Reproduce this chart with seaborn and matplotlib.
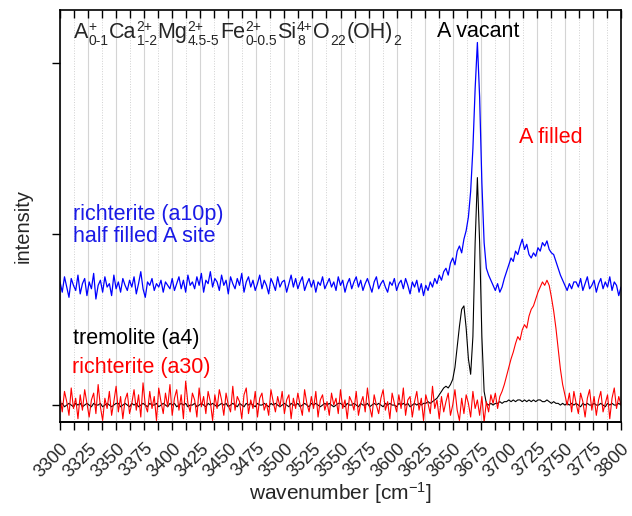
import numpy as np
import pandas as pd
import matplotlib
matplotlib.use("Agg")
import matplotlib.pyplot as plt
import seaborn as sns
from matplotlib.ticker import MultipleLocator
from matplotlib.transforms import offset_copy

# wavenumber grid (cm^-1), 2 cm^-1 steps
wavenumber = np.arange(3300, 3801, 2)

tremolite_a4 = [
    0.00, 0.01, -0.01, 0.00, 0.01, 0.00, -0.01, 0.01, 0.00, 0.01,
    -0.01, 0.00, 0.01, 0.00, -0.01, 0.01, 0.00, 0.00, 0.01, -0.01,
    0.00, 0.01, 0.00, -0.01, 0.00, 0.01, 0.01, -0.01, 0.00, 0.01,
    0.00, -0.01, 0.01, 0.00, 0.01, -0.01, 0.00, 0.01, 0.00, -0.01,
    0.01, 0.00, 0.00, 0.01, -0.01, 0.00, 0.01, 0.00, -0.01, 0.01,
    0.00, 0.01, -0.01, 0.00, 0.01, 0.00, 0.01, -0.01, 0.00, 0.00,
    0.01, -0.01, 0.00, 0.01, 0.00, -0.01, 0.01, 0.00, 0.01, 0.00,
    -0.01, 0.00, 0.01, 0.00, 0.01, -0.01, 0.00, 0.01, 0.00, -0.01,
    0.01, 0.00, -0.01, 0.01, 0.00, 0.01, 0.00, -0.01, 0.01, 0.00,
    0.00, 0.01, 0.00, -0.01, 0.01, 0.00, 0.01, 0.00, -0.01, 0.00,
    0.01, 0.00, -0.01, 0.01, 0.00, 0.00, 0.01, -0.01, 0.00, 0.01,
    0.00, -0.01, 0.01, 0.00, 0.01, 0.00, -0.01, 0.00, 0.01, 0.00,
    0.01, 0.00, -0.01, 0.00, 0.01, 0.01, 0.00, -0.01, 0.01, 0.00,
    0.00, 0.01, 0.00, -0.01, 0.01, 0.00, 0.00, 0.01, -0.01, 0.00,
    0.01, 0.00, 0.01, 0.00, -0.01, 0.01, 0.00, 0.01, 0.00, 0.00,
    -0.01, 0.01, 0.00, 0.01, 0.00, 0.01, -0.01, 0.00, 0.01, 0.00,
    0.01, 0.00, 0.01, 0.01, 0.02, 0.01, 0.02, 0.03, 0.04, 0.06,
    0.08, 0.10, 0.11, 0.10, 0.12, 0.15, 0.22, 0.34, 0.46, 0.56,
    0.58, 0.45, 0.27, 0.18, 0.40, 0.95, 1.33, 0.95, 0.40, 0.08,
    0.01, 0.00, 0.01, 0.00, 0.01, 0.01, 0.02, 0.01, 0.02, 0.02,
    0.03, 0.02, 0.03, 0.02, 0.03, 0.03, 0.02, 0.03, 0.02, 0.03,
    0.02, 0.03, 0.02, 0.03, 0.03, 0.02, 0.02, 0.03, 0.02, 0.01,
    0.02, 0.01, 0.01, 0.00, 0.01, 0.00, 0.01, 0.00, 0.01, 0.00,
    0.01, 0.00, -0.01, 0.01, 0.00, 0.01, 0.00, 0.00, 0.01, 0.00,
    0.00, 0.01, 0.00, -0.01, 0.01, 0.00, 0.01, 0.00, 0.00, 0.01,
    0.00,
]

richterite_a30 = [
    0.05, -0.04, 0.08, 0.02, -0.06, 0.10, -0.02, 0.04, -0.08, 0.06,
    -0.03, 0.09, 0.01, -0.07, 0.03, 0.07, -0.05, 0.12, -0.01, -0.09,
    0.04, -0.02, 0.08, -0.06, 0.02, 0.11, -0.04, 0.05, -0.08, 0.03,
    0.07, -0.05, 0.01, 0.09, -0.03, 0.06, -0.07, 0.13, 0.00, -0.04,
    0.08, -0.02, 0.05, -0.09, 0.10, 0.02, -0.05, 0.07, -0.01, 0.12,
    -0.06, 0.04, 0.09, -0.03, 0.06, -0.08, 0.14, 0.01, -0.04, 0.07,
    0.03, -0.07, 0.10, -0.01, 0.05, -0.05, 0.08, 0.02, -0.09, 0.06,
    -0.02, 0.09, 0.03, -0.06, 0.07, 0.00, -0.04, 0.11, -0.03, 0.05,
    0.02, -0.08, 0.06, 0.10, -0.05, 0.03, -0.02, 0.08, -0.07, 0.04,
    0.07, -0.03, 0.01, -0.06, 0.09, 0.02, -0.04, 0.05, -0.01, 0.08,
    -0.05, 0.03, 0.06, -0.08, 0.04, -0.02, 0.07, 0.00, -0.06, 0.09,
    0.01, -0.04, 0.05, -0.02, 0.08, -0.07, 0.03, 0.06, -0.03, 0.02,
    -0.06, 0.07, 0.00, 0.04, -0.05, 0.09, -0.02, 0.03, -0.08, 0.05,
    0.02, -0.03, 0.08, -0.06, 0.01, 0.05, -0.04, 0.10, -0.01, -0.07,
    0.06, 0.00, -0.05, 0.04, 0.09, -0.03, 0.02, -0.08, 0.07, 0.01,
    -0.04, 0.06, -0.02, 0.10, -0.06, 0.03, 0.05, -0.07, 0.02, 0.08,
    -0.03, 0.04, -0.09, 0.06, 0.01, -0.05, 0.11, -0.02, 0.03, -0.08,
    0.05, -0.04, 0.02, 0.07, -0.06, 0.00, 0.09, -0.03, -0.09, 0.04,
    -0.05, 0.06, 0.01, -0.07, 0.08, -0.02, 0.03, -0.06, 0.05, -0.10,
    0.02, -0.04, 0.06, 0.01, 0.07, -0.02, 0.05, 0.08, 0.12, 0.17,
    0.22, 0.27, 0.31, 0.36, 0.40, 0.38, 0.44, 0.47, 0.45, 0.52,
    0.56, 0.58, 0.62, 0.66, 0.69, 0.72, 0.70, 0.73, 0.70, 0.63,
    0.55, 0.45, 0.33, 0.21, 0.12, 0.06, 0.00, 0.07, -0.04, 0.08,
    0.01, -0.05, 0.07, 0.02, -0.07, 0.04, 0.09, -0.03, 0.05, -0.06,
    0.03, 0.08, -0.04, 0.01, 0.06, -0.08, 0.04, 0.10, -0.02, 0.05,
    0.00,
]

richterite_a10p = [
    0.72, 0.66, 0.75, 0.69, 0.63, 0.74, 0.70, 0.67, 0.76, 0.65,
    0.71, 0.74, 0.64, 0.72, 0.68, 0.77, 0.62, 0.70, 0.73, 0.66,
    0.75, 0.69, 0.71, 0.64, 0.76, 0.68, 0.72, 0.66, 0.74, 0.70,
    0.67, 0.73, 0.69, 0.75, 0.65, 0.71, 0.78, 0.68, 0.63, 0.72,
    0.70, 0.74, 0.67, 0.71, 0.69, 0.73, 0.66, 0.72, 0.70, 0.68,
    0.74, 0.67, 0.71, 0.75, 0.68, 0.73, 0.66, 0.76, 0.70, 0.72,
    0.68, 0.75, 0.70, 0.77, 0.66, 0.73, 0.71, 0.78, 0.69, 0.74,
    0.72, 0.67, 0.76, 0.70, 0.73, 0.65, 0.75, 0.71, 0.68, 0.74,
    0.70, 0.77, 0.66, 0.72, 0.75, 0.69, 0.73, 0.67, 0.71, 0.76,
    0.68, 0.73, 0.70, 0.65, 0.74, 0.71, 0.67, 0.75, 0.69, 0.72,
    0.73, 0.66, 0.71, 0.76, 0.69, 0.74, 0.68, 0.72, 0.75, 0.67,
    0.71, 0.74, 0.69, 0.73, 0.66, 0.72, 0.70, 0.75, 0.68, 0.71,
    0.74, 0.69, 0.72, 0.67, 0.75, 0.70, 0.73, 0.66, 0.71, 0.74,
    0.68, 0.72, 0.75, 0.69, 0.73, 0.67, 0.71, 0.74, 0.70, 0.66,
    0.72, 0.75, 0.68, 0.71, 0.73, 0.69, 0.66, 0.72, 0.70, 0.74,
    0.67, 0.71, 0.73, 0.68, 0.74, 0.70, 0.65, 0.72, 0.69, 0.73,
    0.66, 0.71, 0.64, 0.70, 0.67, 0.72, 0.69, 0.74, 0.71, 0.76,
    0.73, 0.78, 0.80, 0.76, 0.83, 0.86, 0.82, 0.90, 0.93, 0.89,
    0.97, 1.02, 1.10, 1.25, 1.50, 1.85, 2.12, 1.80, 1.30, 0.95,
    0.80, 0.76, 0.73, 0.70, 0.67, 0.71, 0.66, 0.69, 0.74, 0.78,
    0.82, 0.86, 0.84, 0.90, 0.88, 0.93, 0.97, 0.91, 0.94, 0.88,
    0.86, 0.89, 0.87, 0.92, 0.90, 0.95, 0.93, 0.96, 0.91, 0.89,
    0.88, 0.84, 0.80, 0.76, 0.73, 0.70, 0.67, 0.71, 0.68, 0.72,
    0.72, 0.69, 0.74, 0.67, 0.71, 0.75, 0.68, 0.70, 0.73, 0.66,
    0.71, 0.74, 0.68, 0.72, 0.69, 0.75, 0.67, 0.72, 0.70, 0.64,
    0.69,
]

x_ticks = list(range(3300, 3801, 25))

# formula parts: (base, superscript, subscript)
formula_parts = [
    ("A", "+", "0-1"),
    ("Ca", "2+", "1-2"),
    ("Mg", "2+", "4.5-5"),
    ("Fe", "2+", "0-0.5"),
    ("Si", "4+", "8"),
    ("O", "", "22"),
    ("(OH)", "", "2"),
]

sns.set_style("ticks")
plt.rcParams["font.family"] = ["Liberation Sans", "DejaVu Sans"]
plt.rcParams["mathtext.fontset"] = "custom"
plt.rcParams["mathtext.rm"] = "Liberation Sans"
plt.rcParams["mathtext.it"] = "Liberation Sans:italic"
plt.rcParams["mathtext.bf"] = "Liberation Sans:bold"

df = pd.DataFrame({
    "wn": wavenumber,
    "a10p": richterite_a10p,
    "a4": tremolite_a4,
    "a30": richterite_a30,
})

fig = plt.figure(figsize=(6.32, 5.16), dpi=100)
ax = fig.add_axes([60 / 632, 1 - 422 / 516, 561 / 632, 412 / 516])

sns.lineplot(data=df, x="wn", y="a10p", color="#0000ff", lw=0.9, ax=ax)
sns.lineplot(data=df, x="wn", y="a4", color="black", lw=0.8, ax=ax)
sns.lineplot(data=df, x="wn", y="a30", color="#ff0000", lw=0.8, ax=ax)

ax.set_xlim(3300, 3800)
ax.set_ylim(-0.099, 2.31)
ax.set_xticks(x_ticks)
ax.xaxis.set_minor_locator(MultipleLocator(12.5))
ax.set_yticks([0, 1, 2])
ax.set_yticklabels([])
ax.set_xlabel("")
ax.set_ylabel("")
# main axis: inward ticks along the top only
ax.tick_params(axis="x", which="both", direction="in", length=6, width=1,
               bottom=False, top=True, labelbottom=False, labeltop=False,
               color="black")
ax.tick_params(axis="y", direction="out", length=6, width=1, color="black")

ax.grid(True, which="major", axis="x", color="#d4d4d4", lw=0.8, ls="-")
ax.grid(True, which="minor", axis="x", color="#d0d0d0", lw=0.7, ls=":")
ax.set_axisbelow(True)

for sp in ax.spines.values():
    sp.set_linewidth(1.2)
    sp.set_color("black")

# bottom axis: outward ticks with rotated labels
axb = ax.secondary_xaxis("bottom")
axb.set_xticks(x_ticks)
axb.xaxis.set_minor_locator(MultipleLocator(12.5))
axb.set_xticklabels([str(t) for t in x_ticks], rotation=45, ha="right",
                    rotation_mode="anchor", fontsize=13)
axb.tick_params(axis="x", which="both", direction="out", length=6, width=1,
                pad=7, color="black")
axb.spines["bottom"].set_linewidth(1.2)
axb.spines["bottom"].set_color("black")

axb.set_xlabel(r"wavenumber [cm$^{-1}$]", fontsize=15)
axb.xaxis.label.set_va("center")
axb.xaxis.set_label_coords(0.5, -(493 - 422) / 412, transform=ax.transAxes)
ax.set_ylabel("intensity", fontsize=14.5)
ax.yaxis.label.set_va("center")
ax.yaxis.set_label_coords(-(60 - 23) / 561, 1 - (226 - 10) / 412)

fs = 15.5
ax.text(3672.8, 2.154, "A vacant", fontsize=fs, ha="center", va="baseline", color="black")
ax.text(3737, 1.532, "A filled", fontsize=fs, ha="center", va="baseline", color="#ff0000")
ax.text(3312, 1.082, "richterite (a10p)", fontsize=fs, ha="left", va="baseline", color="#1a1ae6")
ax.text(3312, 0.953, "half filled A site", fontsize=fs, ha="left", va="baseline", color="#1a1ae6")
ax.text(3312, 0.357, "tremolite (a4)", fontsize=fs, ha="left", va="baseline", color="black")
ax.text(3311, 0.187, "richterite (a30)", fontsize=fs, ha="left", va="baseline", color="#ff0000")

# chemical formula with stacked super/subscripts
renderer = fig.canvas.get_renderer()
fx, fy = 3312, 2.146
base_fs, script_fs = 15.5, 10
x_off = 0.0
for base, sup, sub in formula_parts:
    t = ax.text(fx, fy, base, fontsize=base_fs, ha="left", va="baseline",
                transform=offset_copy(ax.transData, fig=fig, x=x_off, y=0, units="dots"))
    x_off += t.get_window_extent(renderer).width
    w_script = 0.0
    if sup:
        ts = ax.text(fx, fy, sup, fontsize=script_fs, ha="left", va="baseline",
                     transform=offset_copy(ax.transData, fig=fig, x=x_off + 0.5, y=7.5, units="dots"))
        w_script = max(w_script, ts.get_window_extent(renderer).width)
    if sub:
        tb = ax.text(fx, fy, sub, fontsize=script_fs, ha="left", va="baseline",
                     transform=offset_copy(ax.transData, fig=fig, x=x_off + 0.5, y=-7, units="dots"))
        w_script = max(w_script, tb.get_window_extent(renderer).width)
    x_off += w_script + 1.0

fig.savefig("out.png", dpi=100)
